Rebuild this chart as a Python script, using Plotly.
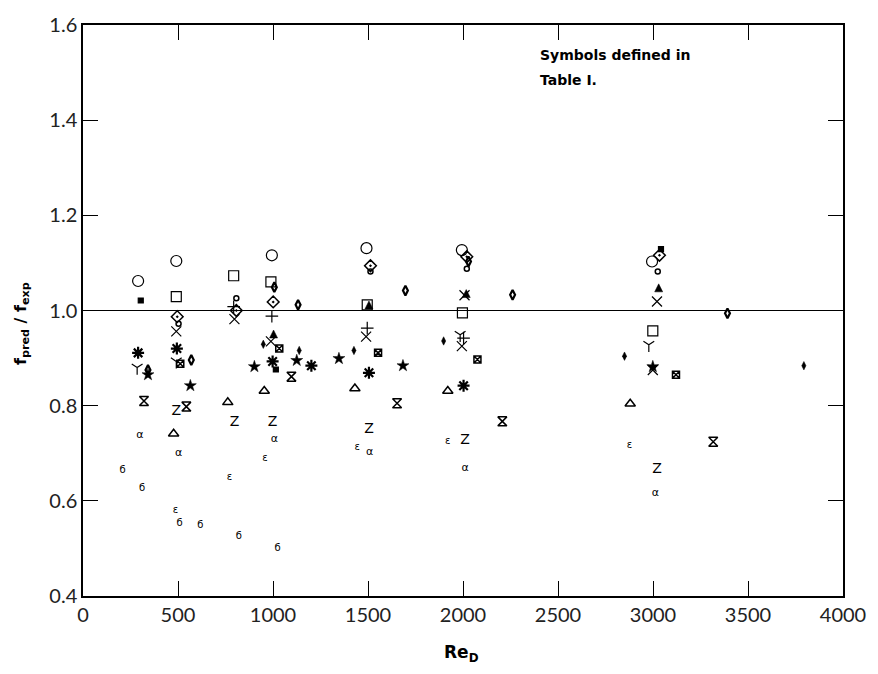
import plotly.graph_objects as go

# ---- data (Re_D, f_pred/f_exp) ----
circle_x = [290, 491, 994, 1492, 1994, 2995]
circle_y = [1.062, 1.104, 1.116, 1.131, 1.127, 1.103]

square_x = [491, 793, 989, 1496, 1997, 2999]
square_y = [1.029, 1.073, 1.060, 1.012, 0.995, 0.957]

smallsq_x = [304, 1015, 3042]
smallsq_y = [1.021, 0.876, 1.129]

plus_x = [793, 994, 1496, 2003]
plus_y = [1.008, 0.988, 0.963, 0.942]

xmark_x = [491, 797, 989, 1490, 2008, 1994, 3021, 2999]
xmark_y = [0.956, 0.982, 0.935, 0.945, 1.032, 0.925, 1.019, 0.875]

ymark_x = [285, 491, 1985, 2978]
ymark_y = [0.880, 0.893, 0.949, 0.928]

aster_x = [290, 494, 998, 1202, 1505, 2003]
aster_y = [0.911, 0.920, 0.893, 0.884, 0.869, 0.842]

star_x = [342, 565, 902, 1125, 1347, 1684, 2999]
star_y = [0.865, 0.842, 0.882, 0.895, 0.899, 0.884, 0.882]

hour_x = [321, 544, 1097, 1653, 2207, 3317]
hour_y = [0.810, 0.798, 0.861, 0.805, 0.767, 0.724]

boxx_x = [512, 1033, 1553, 2076, 3121]
boxx_y = [0.888, 0.920, 0.911, 0.897, 0.865]

tri_x = [477, 762, 954, 1431, 1920, 2880]
tri_y = [0.741, 0.807, 0.831, 0.836, 0.831, 0.804]

dia_x = [949, 1138, 1426, 1898, 2850, 3794]
dia_y = [0.929, 0.916, 0.916, 0.936, 0.904, 0.884]

arrow_x = [1003, 1505, 2017, 3030]
arrow_y = [0.959, 1.020, 1.044, 1.056]

phi_x = [342, 570, 1007, 1132, 1697, 2029, 2261, 3392]
phi_y = [0.875, 0.896, 1.049, 1.012, 1.042, 1.103, 1.033, 0.994]

theta_x = [807, 1513, 2020, 3025, 503]
theta_y = [1.026, 1.082, 1.088, 1.082, 0.972]

diao_x = [1001, 1513, 2020, 3034, 496, 807]
diao_y = [1.018, 1.094, 1.113, 1.116, 0.987, 1.000]

z_x = [491, 797, 998, 1505, 2011, 3021]
z_y = [0.788, 0.764, 0.764, 0.750, 0.726, 0.665]

alpha_x = [299, 503, 1007, 1508, 2011, 3013]
alpha_y = [0.738, 0.701, 0.729, 0.703, 0.669, 0.615]

eps_x = [486, 771, 958, 1443, 1920, 2876]
eps_y = [0.580, 0.650, 0.688, 0.713, 0.725, 0.717]

be_x = [208, 311, 509, 617, 820, 1024]
be_y = [0.664, 0.625, 0.552, 0.549, 0.525, 0.500]

x_ticks = [0, 500, 1000, 1500, 2000, 2500, 3000, 3500, 4000]
y_ticks = [0.4, 0.6, 0.8, 1.0, 1.2, 1.4, 1.6]
y_ticktext = ["0.4", "0.6", "0.8", "1.0", "1.2", "1.4", "1.6"]

fig = go.Figure()

def add_marker(xs, ys, symbol, size, lw=1.2):
    fig.add_trace(go.Scatter(
        x=xs, y=ys, mode="markers",
        marker=dict(symbol=symbol, size=size, color="black",
                    line=dict(color="black", width=lw)),
        showlegend=False, hoverinfo="skip"))

def add_text(xs, ys, label, size):
    fig.add_trace(go.Scatter(
        x=xs, y=ys, mode="text", text=[label] * len(xs),
        textfont=dict(family="DejaVu Sans", size=size, color="black"),
        showlegend=False, hoverinfo="skip"))

add_marker(circle_x, circle_y, "circle-open", 11)
add_marker(square_x, square_y, "square-open", 10)
add_marker(smallsq_x, smallsq_y, "square", 5)
add_marker(plus_x, plus_y, "cross-thin-open", 9)
add_marker(xmark_x, xmark_y, "x-thin-open", 10)
add_marker(ymark_x, ymark_y, "y-down-open", 9)
add_marker(aster_x, aster_y, "asterisk-open", 10, 2.2)
add_marker(star_x, star_y, "star", 9, 0.5)
add_marker(hour_x, hour_y, "hourglass-open", 9, 1.5)
add_marker(boxx_x, boxx_y, "square-x-open", 7, 1.5)
add_marker(tri_x, tri_y, "triangle-up-open", 9, 1.5)
add_marker(dia_x, dia_y, "diamond-tall", 6, 0.5)
add_marker(arrow_x, arrow_y, "arrow-up", 8, 0.5)
add_marker(phi_x, phi_y, "diamond-tall-open", 7, 2.2)
add_marker(theta_x, theta_y, "circle-open", 5, 1.5)
add_marker(diao_x, diao_y, "diamond-open-dot", 9, 1.5)
add_text(z_x, z_y, "Z", 14)
add_text(alpha_x, alpha_y, "α", 11)
add_text(eps_x, eps_y, "ε", 10)
add_text(be_x, be_y, "б", 10)

fig.add_shape(type="line", x0=0, x1=4000, y0=1.0, y1=1.0,
              xref="x", yref="y", line=dict(color="black", width=1.2))

axis_common = dict(
    showline=True, linecolor="black", linewidth=1.5, mirror="ticks",
    ticks="inside", ticklen=15, tickwidth=1, tickcolor="black",
    showgrid=False, zeroline=False,
    tickfont=dict(family="Lato", size=20, color="#222"),
)

fig.update_xaxes(range=[0, 4000], tickvals=x_ticks,
                 ticktext=[str(v) for v in x_ticks], **axis_common)
fig.update_yaxes(range=[0.4, 1.6], tickvals=y_ticks,
                 ticktext=y_ticktext, **axis_common)

fig.add_annotation(xref="paper", yref="paper", x=-0.081, y=0.477,
                   text="<b>f<sub>pred</sub> / f<sub>exp</sub></b>",
                   textangle=-90, showarrow=False,
                   xanchor="center", yanchor="middle",
                   font=dict(family="DejaVu Sans", size=16, color="black"))
fig.add_annotation(xref="paper", yref="paper", x=0.498, y=-0.1,
                   text="<b>Re<sub>D</sub></b>", showarrow=False,
                   yanchor="middle",
                   font=dict(family="DejaVu Sans", size=17, color="black"))
fig.add_annotation(xref="paper", yref="paper", x=0.599, y=0.948,
                   xanchor="left", yanchor="middle", align="left",
                   text="<b>Symbols defined in</b>", showarrow=False,
                   font=dict(family="DejaVu Sans", size=14, color="black"))
fig.add_annotation(xref="paper", yref="paper", x=0.599, y=0.903,
                   xanchor="left", yanchor="middle", align="left",
                   text="<b>Table I.</b>", showarrow=False,
                   font=dict(family="DejaVu Sans", size=14, color="black"))

fig.update_layout(
    width=878, height=674,
    margin=dict(l=83, r=32, t=18, b=78),
    plot_bgcolor="white", paper_bgcolor="white",
)

fig.write_html("out.html")
